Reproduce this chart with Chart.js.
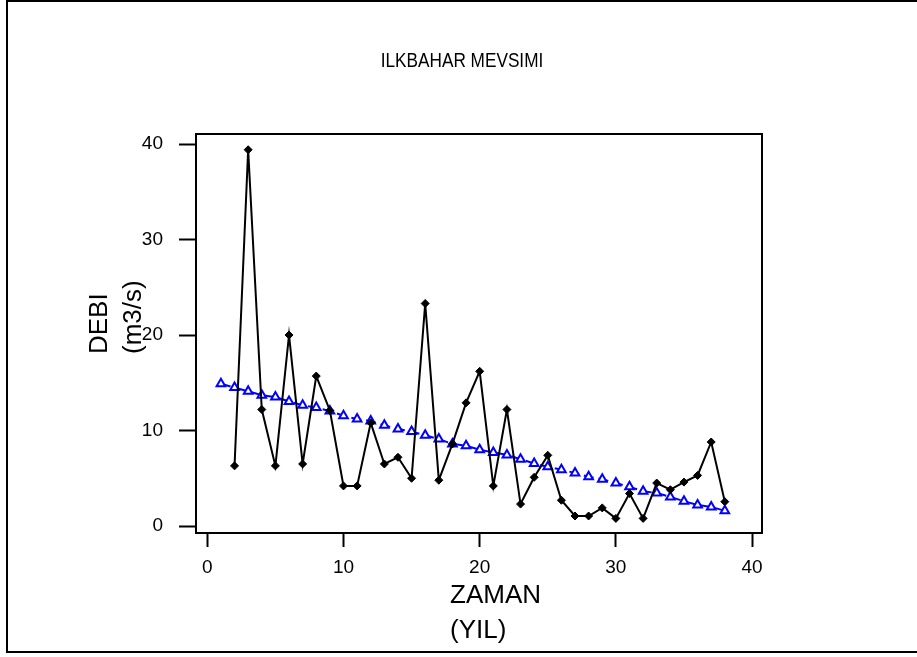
<!DOCTYPE html>
<html>
<head>
<meta charset="utf-8">
<script src="https://cdn.jsdelivr.net/npm/chart.js@4"></script>
<style>
  html, body { margin: 0; padding: 0; background: #fff; }
  #wrap { width: 917px; height: 657px; position: relative; }
</style>
</head>
<body>
<div id="wrap"><canvas id="c" width="917" height="657"></canvas></div>
<script>
// Spring season discharge per year and its linear trend
const chartTitle = 'ILKBAHAR MEVSIMI';
const xTitle = ['ZAMAN', '(YIL)'];
const yTitle = ['DEBI', '(m3/s)'];

const debiYears = [2, 3, 4, 5, 6, 7, 8, 9, 10, 11, 12, 13, 14, 15, 16, 17, 18, 19, 20,
  21, 22, 23, 24, 25, 26, 27, 28, 29, 30, 31, 32, 33, 34, 35, 36, 37, 38];
const debi = [6.3, 39.4, 12.2, 6.3, 20.0, 6.5, 15.7, 12.1, 4.2, 4.2, 10.8, 6.5, 7.2, 5.0, 23.3,
  4.8, 8.6, 12.9, 16.2, 4.2, 12.2, 2.3, 5.1, 7.4, 2.7, 1.05, 1.05, 1.9, 0.8, 3.4, 0.8,
  4.5, 3.8, 4.6, 5.3, 8.8, 2.55];

const trendYears = [1, 2, 3, 4, 5, 6, 7, 8, 9, 10, 11, 12, 13, 14, 15, 16, 17, 18, 19, 20,
  21, 22, 23, 24, 25, 26, 27, 28, 29, 30, 31, 32, 33, 34, 35, 36, 37, 38];
const trend = [14.9, 14.5, 14.1, 13.7, 13.5, 13.05, 12.65, 12.4, 12.05, 11.55, 11.2, 11.0,
  10.55, 10.15, 9.9, 9.5, 9.1, 8.6, 8.4, 8.0, 7.7, 7.45, 7.0, 6.55, 6.2, 5.9, 5.55, 5.15,
  4.9, 4.5, 4.1, 3.65, 3.45, 3.05, 2.6, 2.2, 2.0, 1.6];

const xTicks = [0, 10, 20, 30, 40];
const yTicks = [0, 10, 20, 30, 40];

const FONT = "'Liberation Sans', Arial, sans-serif";

// Page frame, plot box and the free-standing titles
const decorations = {
  id: 'decorations',
  beforeDraw(chart) {
    const ctx = chart.ctx;
    ctx.save();
    ctx.fillStyle = '#fff';
    ctx.fillRect(0, 0, chart.width, chart.height);
    ctx.restore();
  },
  afterDraw(chart) {
    const ctx = chart.ctx;
    const a = chart.chartArea;
    ctx.save();
    ctx.strokeStyle = '#000';
    ctx.lineWidth = 2;
    // outer frame (left, top, bottom)
    ctx.beginPath();
    ctx.moveTo(chart.width + 2, 1);
    ctx.lineTo(7, 1);
    ctx.lineTo(7, 652);
    ctx.lineTo(chart.width + 2, 652);
    ctx.stroke();
    // plot box
    ctx.strokeRect(a.left, a.top, a.right - a.left, a.bottom - a.top);

    ctx.fillStyle = '#000';
    ctx.textBaseline = 'alphabetic';
    // chart title, set in a slightly narrowed face
    ctx.save();
    ctx.font = '20px ' + FONT;
    ctx.textAlign = 'center';
    ctx.translate(462, 67);
    ctx.scale(0.86, 1);
    ctx.fillText(chartTitle, 0, 0);
    ctx.restore();

    // x axis title, two left-aligned lines
    ctx.font = '26px ' + FONT;
    ctx.textAlign = 'left';
    ctx.fillText(xTitle[0], 450, 603);
    ctx.fillText(xTitle[1], 450, 638);

    // y axis title, rotated, two lines
    ctx.translate(0, 354);
    ctx.rotate(-Math.PI / 2);
    ctx.fillText(yTitle[0], 0, 107);
    ctx.fillText(yTitle[1], 0, 141);
    ctx.restore();
  }
};

const ctx = document.getElementById('c').getContext('2d');
new Chart(ctx, {
  type: 'line',
  data: {
    datasets: [
      {
        label: 'DEBI',
        data: debiYears.map((x, i) => ({ x, y: debi[i] })),
        borderColor: '#000',
        backgroundColor: '#000',
        borderWidth: 2,
        pointStyle: 'rectRot',
        pointRadius: 4,
        pointBorderWidth: 1,
        tension: 0,
        order: 1
      },
      {
        label: 'TREND',
        data: trendYears.map((x, i) => ({ x, y: trend[i] })),
        borderColor: '#0000ff',
        backgroundColor: '#fff',
        borderWidth: 2,
        borderDash: [10, 5],
        pointStyle: 'triangle',
        pointRadius: 5,
        pointBorderWidth: 2,
        pointBorderColor: '#0000ff',
        pointBackgroundColor: '#fff',
        tension: 0,
        order: 2
      }
    ]
  },
  options: {
    responsive: false,
    animation: false,
    devicePixelRatio: 1,
    layout: { padding: { left: 0, right: 155, top: 134, bottom: 0 } },
    plugins: {
      legend: { display: false },
      title: { display: false },
      tooltip: { enabled: false }
    },
    scales: {
      x: {
        type: 'linear',
        min: -0.83,
        max: 40.73,
        afterBuildTicks(scale) { scale.ticks = xTicks.map(v => ({ value: v })); },
        afterFit(scale) { scale.height = 124; },
        border: { display: false },
        grid: {
          drawOnChartArea: false,
          drawTicks: true,
          tickLength: 14,
          tickColor: '#000',
          tickWidth: 2
        },
        ticks: {
          color: '#000',
          padding: 9,
          maxRotation: 0,
          autoSkip: false,
          font: { family: FONT, size: 19 }
        }
      },
      y: {
        type: 'linear',
        min: -0.73,
        max: 41.05,
        afterBuildTicks(scale) { scale.ticks = yTicks.map(v => ({ value: v })); },
        afterFit(scale) { scale.width = 196; },
        border: { display: false },
        grid: {
          drawOnChartArea: false,
          drawTicks: true,
          tickLength: 17,
          tickColor: '#000',
          tickWidth: 2
        },
        ticks: {
          color: '#000',
          padding: 16,
          autoSkip: false,
          font: { family: FONT, size: 19 }
        }
      }
    }
  },
  plugins: [decorations]
});
</script>
</body>
</html>
